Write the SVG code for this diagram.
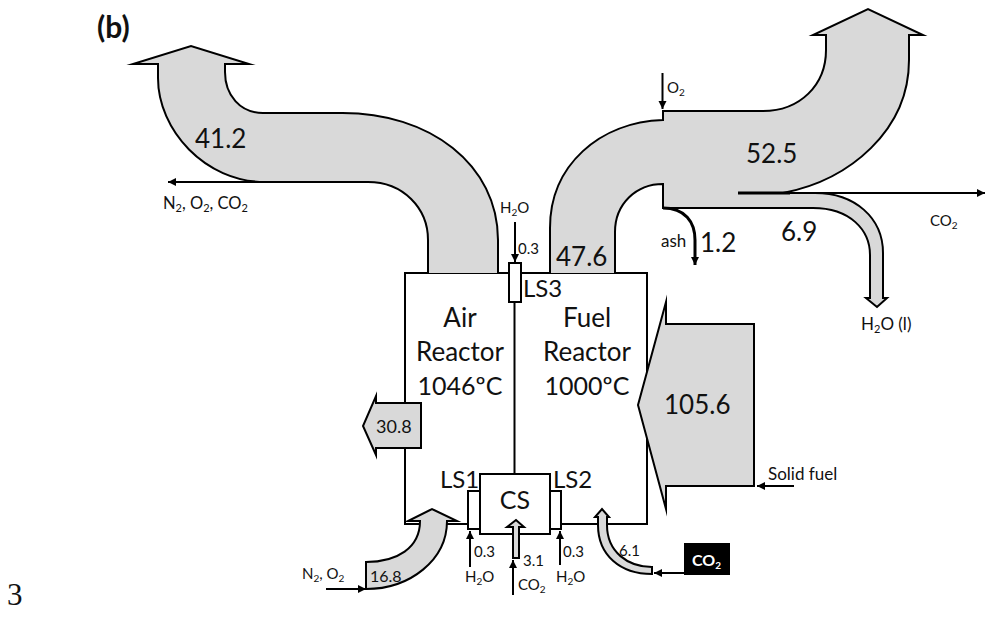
<svg xmlns="http://www.w3.org/2000/svg" width="986" height="619" viewBox="0 0 986 619">
<style>
text{font-family:"Lato","Carlito","Liberation Sans",sans-serif;fill:#111}
.flow{fill:#d9d9d9;stroke:#000;stroke-width:2;stroke-linejoin:miter;stroke-miterlimit:10}
.box{fill:#fff;stroke:#000;stroke-width:2}
.ln{fill:none;stroke:#000;stroke-width:2}
.big{font-size:26px}
.mid{font-size:26px}
.ls{font-size:24px}
.sm{font-size:15px}
.lb{font-size:15px}
.lg{font-size:17px}
.c{text-anchor:middle}
</style>
<defs>
<marker id="ah" markerUnits="userSpaceOnUse" markerWidth="10" markerHeight="10" refX="8" refY="4" orient="auto"><path d="M0,0L8,4L0,8Z" fill="#000"/></marker>
</defs>
<rect width="986" height="619" fill="#fff"/>
<g id="reactor">
<rect class="box" x="405" y="273" width="242" height="251"/>
<path class="ln" d="M514.500,302V474"/>
</g>
<g id="flow-air-out">
<path class="flow" d="M428,273V240C428,208 403,182 368,182H265C205,182 158,130 158,78V64H133L191,46L249,64H225V72C225,95 240,113 263,113H340C430,112 498,165 498,240V273"/>
<text class="big" x="195" y="148">41.2</text>
</g>
<g id="flow-fuel-out">
<path class="flow" d="M615,273V232C615,204 636,184 663,184V208H813C850,208 870,230 870,255V298H866L877,307L887,298H883V253C883,218 855,193 815,193H783C850,180 909,130 909,60V35H923L868,9L813,35H826V50C826,85 800,111 763,111H663V120C600,122 550,165 550,228V273"/>
<path d="M738,193H790" fill="none" stroke="#000" stroke-width="3"/>
<text class="big" x="746" y="163">52.5</text>
<text class="big" x="556" y="266">47.6</text>
<text class="big" x="781" y="241">6.9</text>
</g>
<g id="flow-air-loss">
<path class="flow" d="M421,403V448H376V455L363,426L376,396V403Z"/>
<text x="376" y="433" font-size="18">30.8</text>
</g>
<g id="flow-solid-fuel">
<path class="flow" d="M754,324V486H666V509L638,405L666,302V324Z"/>
<text class="big" x="664" y="414">105.6</text>
</g>
<g id="flow-air-in">
<path class="flow" d="M366,562C397,562 420,548 420,521H408L432,509L457,521H447C447,560 410,589 366,589Z"/>
<text x="370" y="582" font-size="16">16.8</text>
</g>
<g id="flow-cs-in">
<path class="box" d="M480,474H550V534H480Z"/>
<path class="flow" d="M513,558V527H507L516,520L524,527H519V558Z"/>
</g>
<g id="ls1"><rect class="box" x="468" y="491" width="12" height="38"/></g>
<g id="ls2"><rect class="box" x="550" y="491" width="11" height="38"/></g>
<g id="ls3"><rect class="box" x="509" y="263" width="12" height="39"/></g>
<g id="flow-fr-in">
<path class="flow" d="M652,567C628,567 607,552 607,525V517H609L602,509L595,517H598V525C598,555 620,574 652,574Z"/>
<text class="sm" x="619" y="556">6.1</text>
</g>
<g id="co2-box">
<rect x="684" y="543" width="46" height="32" fill="#000"/>
<text x="692" y="566" font-size="16" font-weight="700" style="fill:#fff">CO<tspan font-size="10" dy="3">2</tspan></text>
</g>
<g id="connectors">
<path class="ln" d="M268,182H168" marker-end="url(#ah)"/>
<path class="ln" d="M785,193H985" marker-end="url(#ah)"/>
<path class="ln" d="M662.500,73V109" marker-end="url(#ah)"/>
<path class="ln" d="M515,222V262" marker-end="url(#ah)"/>
<path d="M663,208C685,208 695,222 695,240V265" fill="none" stroke="#000" stroke-width="3" marker-end="url(#ah)"/>
<path class="ln" d="M794,486H757" marker-end="url(#ah)"/>
<path class="ln" d="M326,589H366" marker-end="url(#ah)"/>
<path class="ln" d="M470,567V531" marker-end="url(#ah)"/>
<path class="ln" d="M560,565V531" marker-end="url(#ah)"/>
<path class="ln" d="M513,595V560" marker-end="url(#ah)"/>
<path class="ln" d="M684,573H654" marker-end="url(#ah)"/>
</g>
<g id="labels">
<text x="97" y="38" font-size="30" font-weight="700">(b)</text>
<text x="7" y="605" font-size="31" style="font-family:'Liberation Serif',serif">3</text>
<text class="lb" x="163" y="209" style="font-size:16.500px">N<tspan font-size="11" dy="3">2</tspan><tspan dy="-3">, O</tspan><tspan font-size="11" dy="3">2</tspan><tspan dy="-3">, CO</tspan><tspan font-size="11" dy="3">2</tspan></text>
<text class="lb" x="500" y="213">H<tspan font-size="10" dy="3">2</tspan><tspan dy="-3">O</tspan></text>
<text class="sm" x="518" y="254">0.3</text>
<text class="lb" x="667" y="93">O<tspan font-size="10" dy="3">2</tspan></text>
<text class="lg" x="661" y="247">ash</text>
<text class="big" x="700" y="252">1.2</text>
<text class="lb" x="930" y="226">CO<tspan font-size="10" dy="3">2</tspan></text>
<text class="lg" x="861" y="330">H<tspan font-size="11" dy="3">2</tspan><tspan dy="-3">O (l)</tspan></text>
<text class="lg" x="768" y="480">Solid fuel</text>
<text class="ls" x="523" y="297">LS3</text>
<text class="mid c" x="460" y="327">Air</text>
<text class="mid c" x="460" y="361">Reactor</text>
<text class="mid c" x="460" y="395" style="font-size:25px">1046ºC</text>
<text class="mid c" x="587" y="327">Fuel</text>
<text class="mid c" x="587" y="361">Reactor</text>
<text class="mid c" x="587" y="395" style="font-size:25px">1000ºC</text>
<text class="ls" x="440" y="488">LS1</text>
<text class="ls" x="553" y="488">LS2</text>
<text class="mid c" x="515" y="509" style="font-size:25px">CS</text>
<text class="lb" x="302" y="579">N<tspan font-size="10" dy="3">2</tspan><tspan dy="-3">, O</tspan><tspan font-size="10" dy="3">2</tspan></text>
<text class="sm" x="474" y="557">0.3</text>
<text class="sm" x="563" y="557">0.3</text>
<text class="sm" x="523" y="566">3.1</text>
<text class="lb" x="465" y="582">H<tspan font-size="10" dy="3">2</tspan><tspan dy="-3">O</tspan></text>
<text class="lb" x="556" y="582">H<tspan font-size="10" dy="3">2</tspan><tspan dy="-3">O</tspan></text>
<text class="lb" x="518" y="590">CO<tspan font-size="10" dy="3">2</tspan></text>
</g>
</svg>
